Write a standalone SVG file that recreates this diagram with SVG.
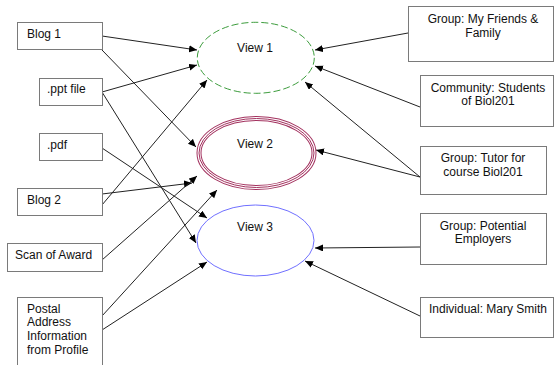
<svg xmlns="http://www.w3.org/2000/svg" width="554" height="365" viewBox="0 0 554 365">
<style>
.box{fill:#fff;stroke:#7a7a7a;stroke-width:1}
.t{font-family:"Liberation Sans",Arial,sans-serif;font-size:12px;fill:#111}
.c{text-anchor:middle}
.ln{stroke:#222;stroke-width:1;fill:none;marker-end:url(#ah)}
</style>
<defs>
<marker id="ah" markerUnits="userSpaceOnUse" markerWidth="9" markerHeight="8" refX="8" refY="3.5" orient="auto">
<path d="M0,0 L8,3.5 L0,7 Z" fill="#000"/>
</marker>
</defs>
<rect width="554" height="365" fill="#fff"/>
<g id="connectors">
<line class="ln" x1="102" y1="36" x2="197" y2="50"/>
<line class="ln" x1="102" y1="50" x2="196" y2="147"/>
<line class="ln" x1="102" y1="92" x2="197" y2="65"/>
<line class="ln" x1="102" y1="92" x2="196" y2="243"/>
<line class="ln" x1="102" y1="148" x2="207" y2="218"/>
<line class="ln" x1="102" y1="194" x2="192" y2="183"/>
<line class="ln" x1="102" y1="205" x2="207" y2="80"/>
<line class="ln" x1="102" y1="260" x2="197" y2="176"/>
<line class="ln" x1="102" y1="316" x2="217" y2="190"/>
<line class="ln" x1="102" y1="330" x2="207" y2="262"/>
<line class="ln" x1="408" y1="33" x2="315" y2="50"/>
<line class="ln" x1="420" y1="107" x2="315" y2="66"/>
<line class="ln" x1="420" y1="177" x2="305" y2="82"/>
<line class="ln" x1="420" y1="177" x2="316" y2="150"/>
<line class="ln" x1="420" y1="247" x2="315" y2="248"/>
<line class="ln" x1="420" y1="316" x2="305" y2="261"/>
</g>
<g id="blog1"><rect class="box" x="17.5" y="22.5" width="85" height="27"/><text class="t" x="27" y="38">Blog 1</text></g>
<g id="ppt"><rect class="box" x="39.5" y="78.5" width="63" height="27"/><text class="t" x="47" y="93">.ppt file</text></g>
<g id="pdf"><rect class="box" x="39.5" y="133.5" width="63" height="27"/><text class="t" x="47" y="149">.pdf</text></g>
<g id="blog2"><rect class="box" x="17.5" y="188.5" width="85" height="27"/><text class="t" x="27" y="204">Blog 2</text></g>
<g id="scan"><rect class="box" x="7.5" y="243.5" width="95" height="28"/><text class="t" x="15" y="258.5">Scan of Award</text></g>
<g id="postal"><rect class="box" x="17.5" y="297.5" width="85" height="80"/>
<text class="t" x="27" y="312.5">Postal</text><text class="t" x="27" y="326">Address</text><text class="t" x="27" y="340">Information</text><text class="t" x="27" y="353.5">from Profile</text></g>
<g id="view1"><ellipse cx="255.8" cy="57.8" rx="58.5" ry="35.5" fill="none" stroke="#3c9c3c" stroke-width="1" stroke-dasharray="7,3"/><text class="t c" x="255" y="52">View 1</text></g>
<g id="view2">
<ellipse cx="256.5" cy="153" rx="57.5" ry="34.5" fill="none" stroke="#a3325f" stroke-width="5"/>
<ellipse cx="256.5" cy="153" rx="57.5" ry="34.5" fill="none" stroke="#fff" stroke-width="3"/>
<ellipse cx="256.5" cy="153" rx="57.5" ry="34.5" fill="none" stroke="#a3325f" stroke-width="1"/>
<text class="t c" x="255" y="148">View 2</text></g>
<g id="view3"><ellipse cx="255.5" cy="240.5" rx="58.5" ry="35.5" fill="none" stroke="#7070ff" stroke-width="1"/><text class="t c" x="255" y="230.5">View 3</text></g>
<g id="friends"><rect class="box" x="408.5" y="6.5" width="145" height="55"/><text class="t c" x="483" y="22.5">Group: My Friends &amp;</text><text class="t c" x="483" y="36.5">Family</text></g>
<g id="community"><rect class="box" x="420.5" y="75.5" width="133" height="51"/><text class="t c" x="488" y="91.5">Community: Students</text><text class="t c" x="488" y="105">of Biol201</text></g>
<g id="tutor"><rect class="box" x="420.5" y="146.5" width="126" height="48"/><text class="t c" x="483" y="161.5">Group: Tutor for</text><text class="t c" x="483" y="175.5">course Biol201</text></g>
<g id="employers"><rect class="box" x="420.5" y="213.5" width="126" height="51"/><text class="t c" x="483" y="229.5">Group: Potential</text><text class="t c" x="483" y="243">Employers</text></g>
<g id="mary"><rect class="box" x="420.5" y="297.5" width="133" height="40"/><text class="t c" x="488" y="313">Individual: Mary Smith</text></g>
</svg>
